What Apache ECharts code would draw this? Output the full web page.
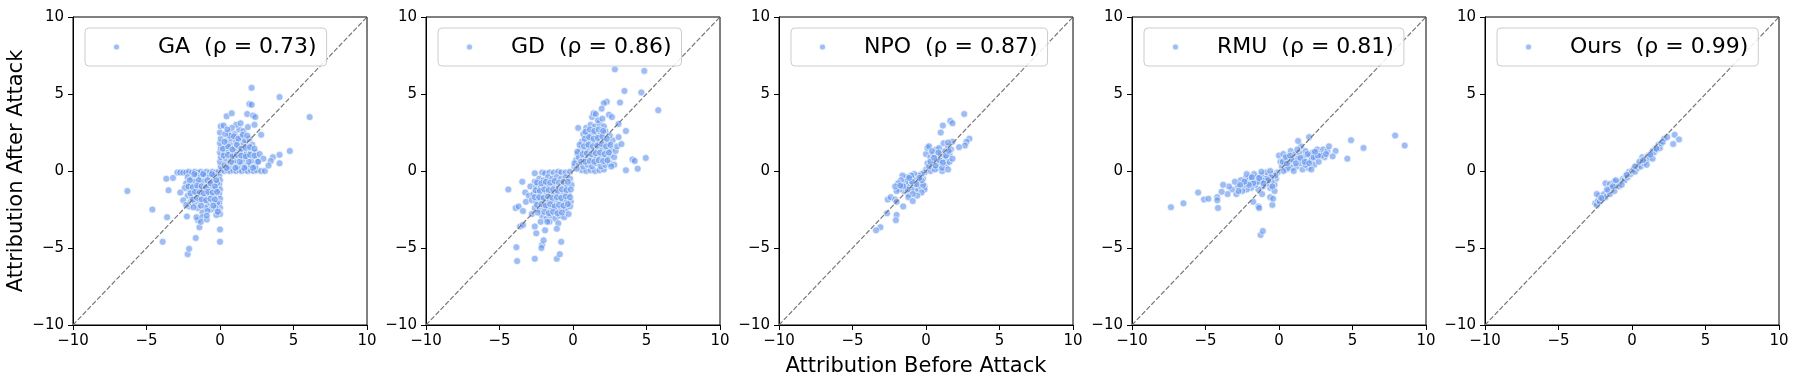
<!DOCTYPE html>
<html>
<head>
<meta charset="utf-8">
<script src="https://cdn.jsdelivr.net/npm/echarts@6/dist/echarts.min.js"></script>
<style>
  html, body { margin: 0; padding: 0; background: #fff; }
  #chart { width: 1798px; height: 389px; }
</style>
</head>
<body>
<div id="chart"></div>
<script>
// method names and spearman rho shown in legends
var methods = ["GA", "GD", "NPO", "RMU", "Ours"];
var rhos = ["0.73", "0.86", "0.87", "0.81", "0.99"];
var tickValues = [-10, -5, 0, 5, 10];

// [before, after] attribution pairs
var gaPoints = [
  [-2.9,-0.1],[-2.7,-0.1],[-2.5,-0.1],[-2.3,-0.1],[-2.1,-0.05],[-1.9,-0.1],[-1.7,-0.05],[-1.5,-0.1],[-1.3,-0.05],[-1.1,-0.1],
  [-0.9,-0.05],[-0.7,-0.1],[-0.5,-0.05],[-0.3,-0.1],[-0.1,-0.05],
  [-0.05,-0.3],[0,-0.6],[-0.05,-0.9],[0,-1.2],[-0.05,-1.5],[0,-1.8],[-0.05,-2.1],[0,-2.4],[-0.1,-2.6],[0,-2.8],[-0.25,-2.85],
  [-2.2,-0.4],[-1.9,-0.5],[-1.6,-0.3],[-1.3,-0.4],[-1.0,-0.3],[-0.7,-0.4],[-0.4,-0.3],
  [-2.3,-0.8],[-2.0,-0.9],[-1.7,-0.7],[-1.4,-0.8],[-1.1,-0.7],[-0.8,-0.9],[-0.5,-0.7],[-0.2,-0.8],
  [-2.1,-1.2],[-1.8,-1.3],[-1.5,-1.1],[-1.2,-1.2],[-0.9,-1.3],[-0.6,-1.1],[-0.3,-1.2],
  [-2.2,-1.6],[-1.9,-1.7],[-1.6,-1.5],[-1.3,-1.6],[-1.0,-1.7],[-0.7,-1.5],[-0.4,-1.6],
  [-2.0,-2.0],[-1.7,-2.1],[-1.4,-1.9],[-1.1,-2.0],[-0.8,-2.2],[-0.5,-2.0],[-0.2,-2.1],
  [-2.1,-2.3],[-1.5,-2.4],[-1.0,-2.4],[-0.6,-2.5],[-0.3,-2.4],[-2.4,-1.1],[-2.5,-1.9],[-2.3,-2.2],[-1.2,-2.7],
  [-2.05,-0.6],[-1.75,-0.2],[-1.45,-0.6],[-1.15,-0.2],[-0.85,-0.6],[-0.55,-0.2],[-0.25,-0.6],
  [-2.15,-1.0],[-1.85,-1.05],[-1.55,-0.95],[-1.25,-1.0],[-0.95,-1.05],[-0.65,-0.8],[-0.35,-1.0],
  [-2.0,-1.45],[-1.7,-1.35],[-1.4,-1.4],[-1.1,-1.45],[-0.8,-1.35],[-0.5,-1.4],[-0.2,-1.35],
  [-1.85,-1.85],[-1.55,-1.75],[-1.25,-1.85],[-0.95,-1.9],[-0.65,-1.8],[-0.35,-1.85],
  [-1.8,-2.35],[-1.3,-2.25],[-0.85,-2.6],[-0.45,-2.25],[-0.15,-2.65],
  [-6.3,-1.3],[-4.6,-2.5],[-3.9,-4.6],[-3.6,-3.0],[-3.5,-1.25],[-3.65,-0.5],[-3.2,-0.45],[-2.7,-1.4],[-2.2,-5.4],[-2.1,-5.05],
  [-1.65,-4.35],[-2.25,-2.95],[-1.4,-3.65],[-1.5,-3.2],[-1.6,-3.0],[-1.2,-3.0],[-1.3,-3.3],[-0.9,-3.15],[-0.9,-2.9],[0,-4.6],[0,-3.8],
  [0.1,0.05],[0.3,0.0],[0.5,0.05],[0.7,0.0],[0.9,0.05],[1.1,0.0],[1.3,0.05],[1.5,0.0],[1.7,0.05],[1.9,0.0],
  [2.1,0.05],[2.3,0.0],[2.5,0.05],[2.8,0.0],[3.05,0.0],
  [0.05,0.3],[0,0.6],[0.05,0.9],[0,1.2],[0.05,1.5],[0,1.8],[0.05,2.1],[0,2.5],[0.05,2.9],[0.25,2.95],
  [0.3,0.4],[0.6,0.3],[0.9,0.5],[1.2,0.3],[1.5,0.5],[1.8,0.3],[2.1,0.4],[2.4,0.3],
  [0.4,0.8],[0.7,0.9],[1.0,0.7],[1.3,0.9],[1.6,0.8],[1.9,0.9],[2.2,0.7],[2.5,0.9],
  [0.3,1.2],[0.6,1.3],[0.9,1.1],[1.2,1.3],[1.5,1.2],[1.8,1.1],[2.1,1.3],[2.4,1.2],
  [0.4,1.6],[0.7,1.7],[1.0,1.5],[1.3,1.6],[1.6,1.8],[1.9,1.6],[2.2,1.7],
  [0.5,2.0],[0.8,2.1],[1.1,1.9],[1.4,2.2],[1.7,2.0],[2.0,2.1],
  [0.6,2.5],[1.0,2.4],[1.3,2.7],[1.6,2.6],[1.1,3.0],[1.4,3.1],[0.8,2.8],
  [0.45,0.2],[0.75,0.6],[1.05,0.2],[1.35,0.6],[1.65,0.2],[1.95,0.6],[2.25,0.2],[2.55,0.6],
  [0.25,1.0],[0.55,1.05],[0.85,0.95],[1.15,1.05],[1.45,1.0],[1.75,0.95],[2.05,1.05],[2.35,1.0],[2.7,1.1],
  [0.2,1.45],[0.55,1.6],[0.85,1.4],[1.15,1.7],[1.45,1.45],[1.75,1.5],[2.05,1.55],[2.35,1.45],
  [0.3,1.9],[0.65,2.3],[0.95,2.25],[1.25,2.1],[1.55,2.35],[1.85,2.3],[0.35,2.4],[0.5,2.7],
  [0.45,3.55],[0.8,3.75],[1.85,3.7],[2.25,3.6],[2.4,3.5],[2.35,3.0],[1.9,2.85],[2.8,2.35],[2.0,4.35],[2.15,4.3],
  [2.15,5.4],[4.05,4.8],[6.1,3.5],[4.75,1.3],[4.05,1.05],[4.05,0.5],[3.6,0.9],[3.45,0.65],[3.3,0.35],[2.95,0.8],[2.6,0.6]
];

var gdPoints = [
  [-2.6,-0.15],[-2.1,-0.1],[-1.9,-0.15],[-1.6,-0.1],[-1.3,-0.1],[-1.0,-0.05],[-0.8,-0.1],[-0.5,-0.1],[-0.2,-0.05],
  [-3.45,-0.7],[-3.25,-1.4],[-2.6,-0.7],[-2.9,-1.0],[-3.0,-1.6],[-3.2,-2.0],[-3.9,-2.4],[-3.7,-2.3],[-3.4,-2.6],
  [-2.3,-0.5],[-2.0,-0.6],[-1.7,-0.4],[-1.4,-0.5],[-1.1,-0.4],[-0.8,-0.5],[-0.5,-0.4],[-0.2,-0.5],
  [-2.5,-1.0],[-2.2,-1.1],[-1.9,-0.9],[-1.6,-1.0],[-1.3,-0.9],[-1.0,-1.1],[-0.7,-0.9],[-0.4,-1.0],[-0.1,-0.9],
  [-2.7,-1.5],[-2.4,-1.4],[-2.1,-1.6],[-1.8,-1.4],[-1.5,-1.5],[-1.2,-1.4],[-0.9,-1.6],[-0.6,-1.4],[-0.3,-1.5],
  [-2.8,-1.9],[-2.5,-2.0],[-2.2,-1.8],[-1.9,-2.0],[-1.6,-1.9],[-1.3,-2.1],[-1.0,-1.9],[-0.7,-2.0],[-0.4,-1.9],[-0.15,-2.0],
  [-2.6,-2.4],[-2.3,-2.5],[-2.0,-2.3],[-1.7,-2.5],[-1.4,-2.4],[-1.1,-2.6],[-0.8,-2.4],[-0.5,-2.5],[-0.2,-2.3],
  [-2.8,-2.8],[-2.1,-2.9],[-1.8,-3.1],[-1.5,-2.9],[-1.2,-3.1],[-0.9,-2.9],[-0.6,-3.0],[-0.3,-2.8],
  [-2.2,-3.3],[-1.6,-3.3],[-1.0,-3.4],
  [-2.45,-0.75],[-2.15,-0.8],[-1.85,-0.7],[-1.55,-0.75],[-1.25,-0.65],[-0.95,-0.75],[-0.65,-0.7],[-0.35,-0.7],
  [-2.55,-1.25],[-2.25,-1.3],[-1.95,-1.2],[-1.65,-1.25],[-1.35,-1.2],[-1.05,-1.3],[-0.75,-1.2],[-0.45,-1.25],[-0.15,-1.2],
  [-2.6,-1.7],[-2.3,-1.7],[-2.0,-1.75],[-1.7,-1.65],[-1.4,-1.75],[-1.1,-1.7],[-0.8,-1.75],[-0.5,-1.65],[-0.2,-1.7],
  [-2.45,-2.2],[-2.15,-2.15],[-1.85,-2.25],[-1.55,-2.15],[-1.25,-2.3],[-0.95,-2.2],[-0.65,-2.25],[-0.35,-2.15],
  [-2.4,-2.7],[-1.95,-2.65],[-1.65,-2.75],[-1.35,-2.65],[-1.05,-2.75],[-0.75,-2.7],
  [-4.4,-1.2],[-3.6,-3.6],[-3.4,-3.5],[-3.85,-4.95],[-3.8,-5.85],[-2.6,-5.7],[-2.1,-4.8],[-2.0,-4.5],[-2.15,-5.0],[-1.1,-5.7],
  [-0.9,-5.4],[-0.8,-4.6],[-1.1,-3.75],[-2.6,-3.6],[-2.5,-4.05],[-1.75,-3.3],[-1.9,-3.85],
  [0.6,0.05],[0.9,0.0],[1.2,0.05],[1.5,0.0],[1.8,0.05],[2.1,0.1],[0.1,0.3],[0.2,0.7],[0.3,1.1],[0.1,0.5],
  [0.4,0.4],[0.7,0.3],[1.0,0.4],[1.3,0.3],[1.6,0.5],[1.9,0.3],[2.2,0.4],[2.5,0.5],
  [0.4,0.9],[0.7,0.8],[1.0,1.0],[1.3,0.8],[1.6,0.9],[1.9,1.0],[2.2,0.8],[2.5,1.0],[2.8,0.9],
  [0.5,1.4],[0.8,1.3],[1.1,1.5],[1.4,1.3],[1.7,1.4],[2.0,1.5],[2.3,1.3],[2.6,1.4],[2.9,1.3],
  [0.6,1.9],[0.9,1.8],[1.2,2.0],[1.5,1.8],[1.8,1.9],[2.1,2.0],[2.4,1.8],[2.7,2.0],
  [0.7,2.4],[1.0,2.3],[1.3,2.5],[1.6,2.3],[1.9,2.4],[2.2,2.6],[2.5,2.3],
  [0.35,2.8],[0.9,2.8],[1.2,3.0],[1.5,2.9],[1.8,3.1],[2.1,2.9],[1.3,3.5],[1.7,3.3],[2.0,3.4],
  [0.25,0.15],[0.55,0.6],[0.85,0.6],[1.15,0.65],[1.45,0.6],[1.75,0.7],[2.05,0.65],[2.35,0.7],
  [0.3,1.25],[0.65,1.1],[0.95,1.15],[1.25,1.1],[1.55,1.15],[1.85,1.2],[2.15,1.1],[2.45,1.2],
  [0.45,1.7],[0.75,1.6],[1.05,1.7],[1.35,1.6],[1.65,1.65],[1.95,1.75],[2.25,1.6],[2.55,1.7],
  [0.8,2.1],[1.1,2.2],[1.4,2.1],[1.7,2.15],[2.0,2.25],[2.3,2.1],
  [0.85,2.55],[1.15,2.7],[1.45,2.6],[1.75,2.7],[2.05,2.6],
  [2.85,6.6],[4.85,6.5],[3.5,5.2],[4.65,5.1],[5.8,3.95],[3.2,4.45],[2.3,4.5],[2.1,4.4],[1.95,4.05],[1.4,3.75],
  [1.55,3.7],[2.45,3.65],[2.65,3.5],[3.6,2.6],[3.1,3.05],[3.1,2.2],[3.0,1.6],[3.3,1.75],[4.05,0.75],[4.2,0.65],
  [4.95,0.85],[3.6,0.05],[4.4,0.15],[2.8,0.4],[2.6,0.3]
];

var npoPoints = [
  [0.0,0.1],[0.1,0.5],[0.0,1.1],[0.1,1.5],[0.2,1.6],[0.3,0.9],[0.4,0.3],[0.5,1.1],[0.6,0.6],[0.7,1.4],
  [0.8,0.2],[0.8,0.9],[0.9,1.5],[1.0,0.5],[1.0,1.1],[1.1,0.0],[1.2,0.8],[1.2,1.8],[1.3,1.3],[1.4,0.4],
  [1.4,0.9],[1.5,1.6],[1.6,0.6],[1.6,1.1],[1.7,1.4],[1.8,0.8],[1.8,1.9],[0.4,1.3],[0.3,0.0],[0.6,0.1],
  [1.1,0.2],[1.5,0.1],[0.9,0.7],[0.2,0.3],
  [0.3,0.6],[0.55,0.85],[0.85,1.2],[1.15,0.55],[1.35,1.0],[1.55,1.3],[0.65,0.35],
  [2.6,3.7],[1.65,3.25],[1.8,3.1],[1.15,2.95],[1.0,2.5],[2.95,2.1],[2.75,1.9],[2.65,1.65],[2.25,1.55],[1.5,1.85],
  [-0.1,-0.1],[-0.2,-0.5],[-0.1,-1.0],[-0.1,-1.2],[-0.3,-0.2],[-0.4,-0.8],[-0.5,-0.3],[-0.5,-1.1],[-0.6,-0.6],[-0.7,-1.3],
  [-0.8,-0.2],[-0.8,-0.9],[-0.9,-0.5],[-1.0,-1.2],[-1.0,-0.3],[-1.1,-0.8],[-1.2,-1.5],[-1.3,-0.4],[-1.3,-1.0],[-1.4,-0.7],
  [-1.5,-1.3],[-1.6,-0.3],[-1.6,-0.9],[-1.7,-0.6],[-1.8,-1.2],[-1.9,-0.8],[-2.0,-1.3],[-2.1,-1.0],[-0.3,-1.4],[-0.6,-1.6],
  [-0.9,-1.5],[-1.2,-1.7],[-0.4,-0.6],[-0.2,-0.9],
  [-0.3,-0.6],[-0.65,-0.85],[-0.95,-0.7],[-1.25,-1.2],[-1.55,-1.0],[-0.45,-0.45],[-1.15,-0.45],[-1.75,-0.95],
  [-2.6,-1.85],[-2.4,-1.7],[-2.1,-1.85],[-2.0,-2.0],[-1.55,-2.3],[-0.9,-1.95],[-2.0,-2.85],[-2.65,-2.75],[-2.05,-3.2],[-3.1,-3.65],
  [-3.4,-3.85]
];

var rmuPoints = [
  [0.0,1.0],[0.1,0.6],[0.2,0.3],[0.3,1.1],[0.4,0.5],[0.5,0.1],[0.6,0.9],[0.7,0.4],[0.8,1.3],[0.9,0.2],
  [1.0,0.7],[1.1,1.1],[1.2,0.3],[1.3,0.8],[1.4,1.2],[1.5,0.5],[1.6,0.1],[1.7,0.9],[1.8,1.3],[1.9,0.6],
  [2.0,0.2],[2.1,1.0],[2.2,0.7],[2.3,1.2],[2.4,0.4],[2.5,0.9],[2.6,1.4],[2.7,0.6],[2.8,1.1],[3.0,1.4],
  [3.1,0.9],[3.3,1.3],[3.4,1.6],[0.6,0.2],[1.0,0.0],[1.5,1.6],[2.2,0.1],[0.3,0.0],[1.8,0.4],[2.9,1.0],
  [0.25,0.6],[0.55,0.5],[0.85,0.75],[1.15,0.5],[1.45,0.85],[1.75,0.6],[2.05,0.5],[2.35,0.9],[2.65,1.0],[0.45,0.9],
  [1.25,1.4],[0.75,1.0],[1.95,1.1],[2.45,1.25],[3.2,1.1],
  [7.9,2.3],[8.55,1.65],[4.9,2.0],[5.75,1.5],[4.65,0.8],[3.85,1.3],[3.65,0.95],[2.05,2.2],[1.3,1.95],
  [-0.1,-0.1],[-0.2,-0.5],[-0.3,-0.9],[-0.4,-0.2],[-0.5,-0.7],[-0.6,-1.1],[-0.7,-0.3],[-0.8,-0.8],[-0.9,-0.1],[-1.0,-0.5],
  [-1.1,-1.0],[-1.2,-0.3],[-1.3,-0.7],[-1.4,-1.2],[-1.5,-0.4],[-1.6,-0.9],[-1.7,-0.2],[-1.8,-0.6],[-1.9,-1.1],[-2.0,-0.4],
  [-2.1,-0.8],[-2.2,-1.2],[-2.3,-0.5],[-2.4,-0.9],[-2.5,-1.3],[-2.6,-0.6],[-2.8,-1.0],[-2.9,-1.5],[-3.0,-0.7],[-3.2,-1.2],
  [-3.4,-1.0],[-3.5,-1.5],[-1.2,-0.05],[-0.6,0.0],[-2.2,-0.2],[-0.3,-1.3],
  [-0.25,-0.3],[-0.55,-0.4],[-0.85,-0.5],[-1.15,-0.6],[-1.45,-0.7],[-1.75,-0.8],[-2.05,-0.9],[-2.35,-0.7],[-2.65,-0.9],[-0.75,-0.6],
  [-1.35,-0.45],[-1.85,-0.4],[-2.75,-1.3],[-0.45,-1.0],[-1.05,-0.8],
  [-7.35,-2.35],[-6.5,-2.1],[-5.5,-1.4],[-5.1,-1.85],[-4.8,-1.8],[-4.2,-1.7],[-4.2,-1.9],[-4.15,-2.4],[-3.9,-1.35],[-3.8,-0.9],
  [-1.25,-4.15],[-1.1,-3.9],[-1.75,-2.0],[-1.4,-2.3],[-1.35,-2.4],[-0.45,-2.2],[-0.6,-1.7],[-0.4,-1.8],[-1.15,-1.5]
];

var oursPoints = [
  [-2.5,-2.1],[-2.4,-2.2],[-2.3,-1.9],[-2.2,-2.0],[-2.2,-1.6],[-2.0,-1.8],[-1.9,-1.5],[-1.8,-1.7],[-1.8,-0.8],[-1.6,-1.3],
  [-1.5,-0.85],[-1.5,-1.5],[-1.4,-1.1],[-1.2,-0.7],[-1.2,-1.3],[-1.0,-0.9],[-0.9,-1.0],[-0.8,-0.7],[-0.6,-0.5],[-0.5,-0.6],
  [-0.4,-0.3],[-0.3,-0.4],[-0.2,-0.05],[-0.1,-0.2],[0.0,0.0],[0.1,0.1],[0.2,-0.05],[0.3,0.3],[0.4,0.2],[0.5,0.4],
  [0.6,0.3],[0.7,0.6],[0.7,0.9],[0.8,0.5],[0.9,0.8],[1.0,0.7],[1.1,1.0],[1.2,0.9],[1.3,1.1],[1.4,1.3],
  [1.5,1.2],[1.6,1.5],[1.7,1.4],[1.8,1.7],[1.9,1.5],[2.0,1.8],[2.1,1.9],[2.2,2.1],[2.4,2.2],[2.9,2.35],
  [3.2,2.05],[2.8,1.75],[-2.4,-1.5],[-1.7,-1.2],[-1.1,-0.6],[0.5,0.6],[1.0,0.4],[1.4,0.8],[-0.7,-0.9],[0.2,0.3],
  [-2.1,-1.75],[-1.3,-1.0],[-0.35,-0.25],[0.75,0.7],[1.25,1.05],[1.65,1.45]
];

var allPoints = [gaPoints, gdPoints, npoPoints, rmuPoints, oursPoints];

var chart = echarts.init(document.getElementById("chart"));

var gridLeft = 73, gridStep = 353, gridTop = 17, gridW = 294, gridH = 308;
var fontFamily = "DejaVu Sans";

function tickFmt(v) {
  return v < 0 ? "\u2212" + (-v) : String(v);
}

var grids = [], xAxes = [], yAxes = [], series = [], legends = [];

methods.forEach(function (m, i) {
  var name = m + "  (\u03c1 = " + rhos[i] + ")";
  var left = gridLeft + gridStep * i;
  grids.push({
    left: left, top: gridTop, width: gridW, height: gridH,
    show: true, borderColor: "#000", borderWidth: 1, backgroundColor: "#fff",
  });
  var axisCommon = {
    gridIndex: i,
    type: "value",
    min: tickValues[0],
    max: tickValues[tickValues.length - 1],
    interval: tickValues[1] - tickValues[0],
    splitLine: { show: false },
    axisLine: { show: true, onZero: false, lineStyle: { color: "#000", width: 1 } },
    axisTick: { show: true, inside: false, length: 5, lineStyle: { color: "#000", width: 1 } },
    axisLabel: { color: "#000", fontSize: 15, fontFamily: fontFamily, margin: 9, formatter: tickFmt },
  };
  xAxes.push(Object.assign({}, axisCommon));
  yAxes.push(Object.assign({}, axisCommon));
  series.push({
    name: name,
    type: "scatter",
    xAxisIndex: i,
    yAxisIndex: i,
    symbolSize: 7,
    itemStyle: { color: "rgba(100,149,237,0.78)", borderColor: "#fff", borderWidth: 0.8 },
    data: allPoints[i],
    z: 2,
  });
  // y = x reference
  series.push({
    type: "line",
    xAxisIndex: i,
    yAxisIndex: i,
    data: [[tickValues[0], tickValues[0]], [tickValues[4], tickValues[4]]],
    symbol: "none",
    silent: true,
    lineStyle: { color: "#777", width: 1.2, type: [5, 2] },
    z: 3,
  });
  legends.push({
    data: [name],
    left: left + 12,
    top: 28,
    orient: "horizontal",
    padding: [8, 10, 8, 27],
    icon: "circle",
    itemWidth: 7,
    itemHeight: 7,
    backgroundColor: "rgba(255,255,255,0.85)",
    borderColor: "#cccccc",
    borderWidth: 1,
    borderRadius: 4,
    textStyle: { color: "#000", fontSize: 22, fontFamily: fontFamily, padding: [0, 0, 0, 33] },
    z: 10,
  });
});

chart.setOption({
  animation: false,
  backgroundColor: "#fff",
  grid: grids,
  xAxis: xAxes,
  yAxis: yAxes,
  legend: legends,
  series: series,
  graphic: [
    {
      type: "text",
      x: 17, y: 171,
      rotation: Math.PI / 2,
      style: {
        text: "Attribution After Attack",
        fontSize: 21, fontFamily: fontFamily, fill: "#000",
        align: "center", verticalAlign: "middle",
      },
    },
    {
      type: "text",
      x: 916, y: 367,
      style: {
        text: "Attribution Before Attack",
        fontSize: 21, fontFamily: fontFamily, fill: "#000",
        align: "center", verticalAlign: "middle",
      },
    },
  ],
});

window.onresize = function () { chart.resize(); };
</script>
</body>
</html>
